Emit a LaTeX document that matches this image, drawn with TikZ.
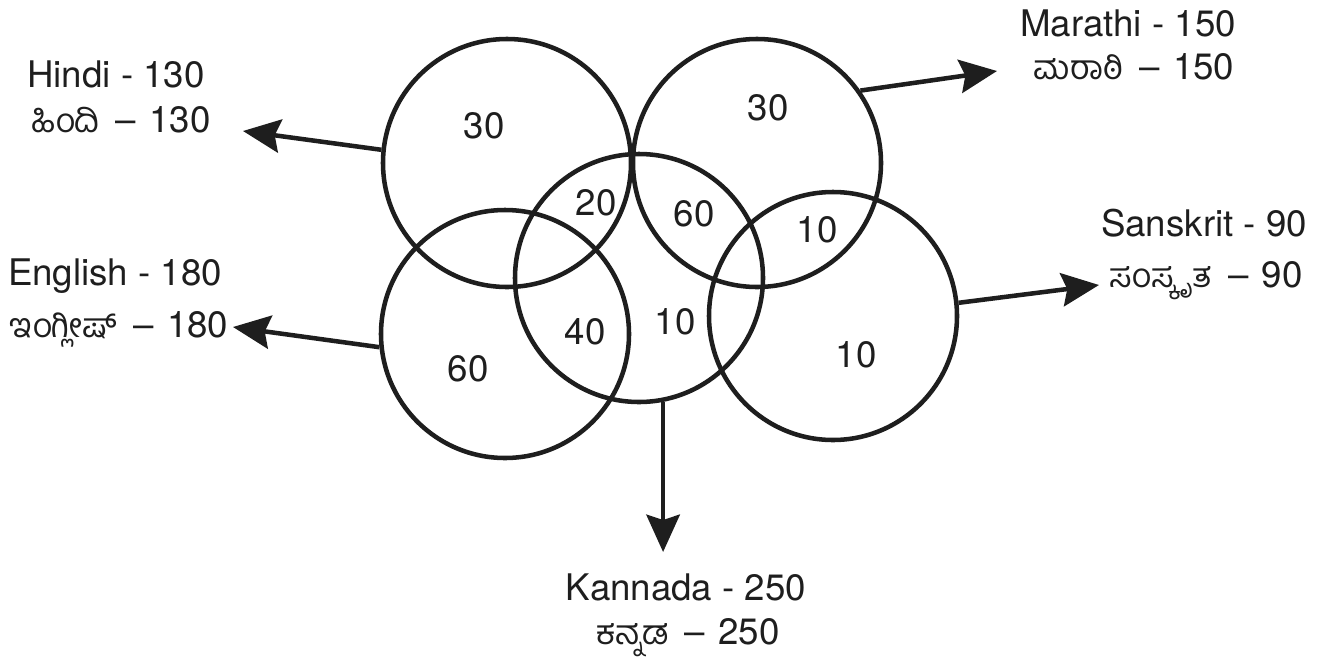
\documentclass[tikz,border=0pt]{standalone}
\usepackage{fontspec}
\setmainfont{TeX Gyre Heros}
\newfontfamily\kn[Script=Kannada,Scale=0.92]{Hind Mysuru}
\usetikzlibrary{arrows.meta}
\definecolor{ink}{HTML}{1E1E1E}
\newcommand{\kdash}[2]{\raisebox{0pt}[\height][0pt]{\kn #1}\hspace{0.45em}–\hspace{0.36em}#2}
\begin{document}
\begin{tikzpicture}[x=0.75pt,y=-0.75pt,
  venn/.style={circle,draw=ink,line width=3.4pt,minimum size=186pt,inner sep=0pt},
  num/.style={text=ink,font=\fontsize{27.5}{32}\selectfont,inner sep=0pt},
  lbl/.style={text=ink,font=\fontsize{27.5}{32}\selectfont,inner sep=0pt,anchor=base},
  arr/.style={draw=ink,line width=3.4pt,-{Stealth[length=28pt,width=25pt,inset=4pt]}}]
\useasboundingbox (0,0) rectangle (1332,661);
% circles
\node[venn] (hindi)    at (507,163) {};
\node[venn] (marathi)  at (757,163) {};
\node[venn] (kannada)  at (639,278) {};
\node[venn] (english)  at (505,334) {};
\node[venn] (sanskrit) at (833,316) {};
% region numbers
\node[num] (n1) at (484,126) {30};
\node[num] (n2) at (768,108) {30};
\node[num] (n3) at (596,203) {20};
\node[num] (n4) at (694,214) {60};
\node[num] (n5) at (817,230) {10};
\node[num] (n6) at (585,332) {40};
\node[num] (n7) at (675,322) {10};
\node[num] (n8) at (468,369) {60};
\node[num] (n9) at (856,355) {10};
% labels
\node[lbl] (hindiA) at (116,87) {Hindi - 130};
\node[lbl] (hindiB) at (121,132) {\kdash{ಹಿಂದಿ}{130}};
\node[lbl] (englishA) at (115,285) {English - 180};
\node[lbl] (englishB) at (119,337) {\kdash{ಇಂಗ್ಲೀಷ್}{180}};
\node[lbl] (marathiA) at (1128,36) {Marathi - 150};
\node[lbl] (marathiB) at (1134,79) {\kdash{ಮರಾಠಿ}{150}};
\node[lbl] (sanskritA) at (1204,236) {Sanskrit - 90};
\node[lbl] (sanskritB) at (1206,287) {\kdash{ಸಂಸ್ಕೃತ}{90}};
\node[lbl] (kannadaA) at (686,600) {Kannada - 250};
\node[lbl] (kannadaB) at (688,644) {\kdash{ಕನ್ನಡ}{250}};
% arrow tips
\coordinate (thindi) at (243,131);
\coordinate (tenglish) at (233,327);
\coordinate (tmarathi) at (997,71);
\coordinate (tsanskrit) at (1099,285);
\coordinate (tkannada) at (663,552);
% arrows
\draw[arr] (hindi.174) -- (thindi);
\draw[arr] (english.186) -- (tenglish);
\draw[arr] (marathi.35.6) -- (tmarathi);
\draw[arr] (sanskrit.6) -- (tsanskrit);
\draw[arr] (kannada.-79) -- (kannada.-79 |- tkannada);
\end{tikzpicture}
\end{document}
